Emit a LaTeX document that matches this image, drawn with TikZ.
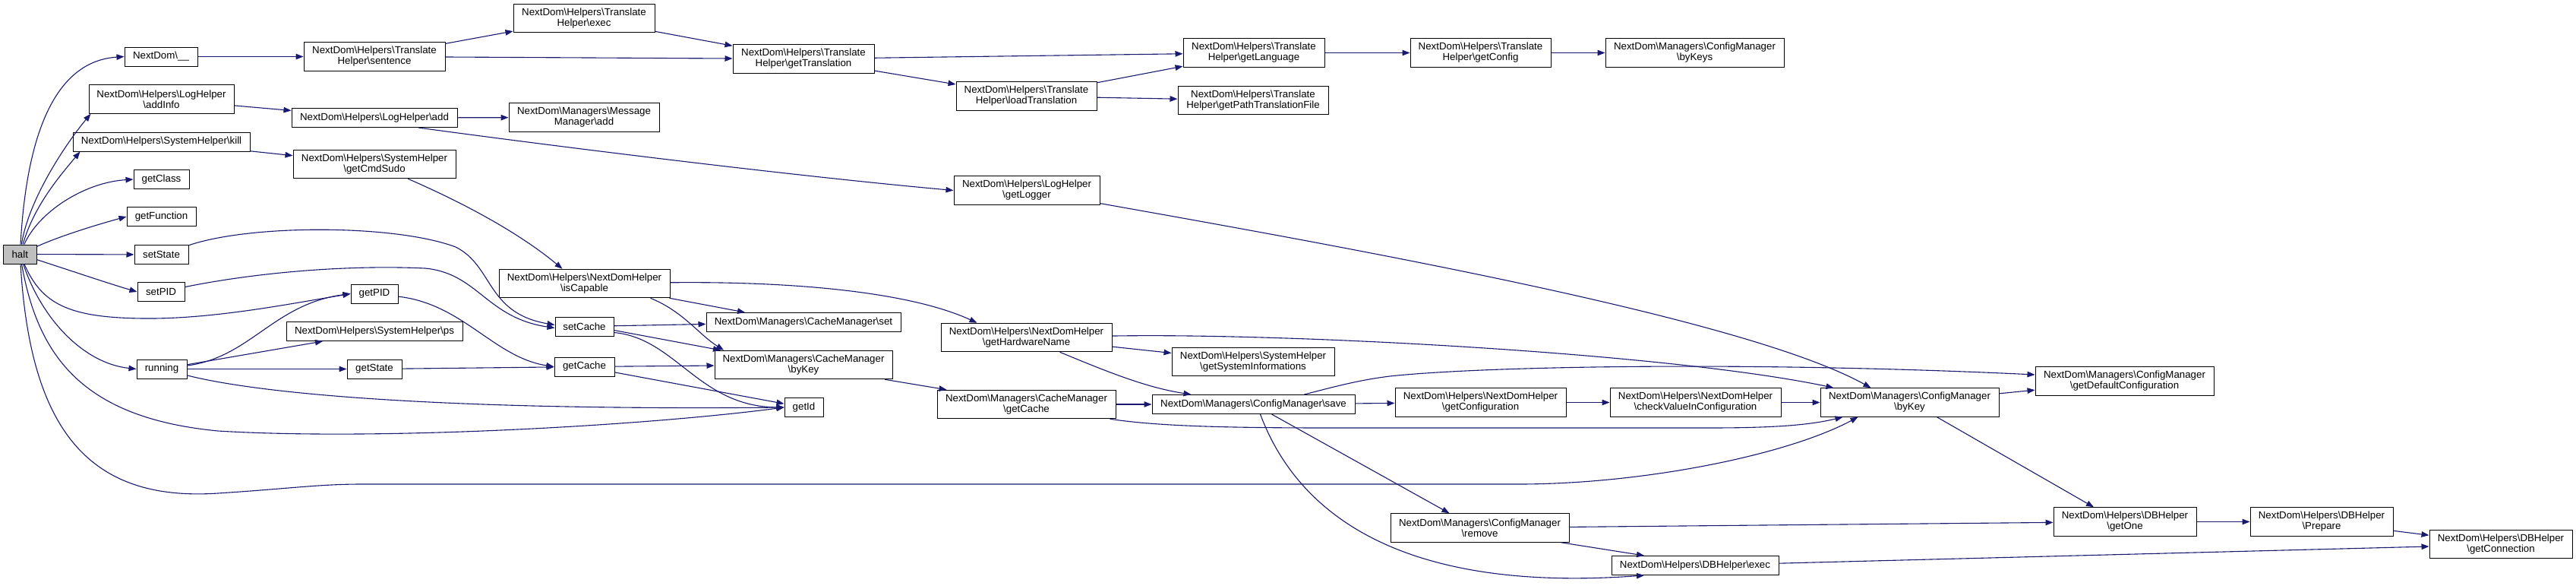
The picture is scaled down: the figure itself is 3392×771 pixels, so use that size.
\documentclass[tikz,border=0pt]{standalone}
\usepackage{fontspec}
\setmainfont{Liberation Sans}
\usetikzlibrary{arrows.meta}
\newcommand{\BS}{\textbackslash}
\definecolor{edgeblue}{RGB}{25,25,112}
\definecolor{haltgray}{RGB}{191,191,191}
\begin{document}
\begin{tikzpicture}[x=1pt,y=-1pt,
  fn/.style={draw=black, line width=1pt, fill=white, inner xsep=2pt, inner ysep=1pt, minimum height=25pt, align=center, font=\fontsize{13.3}{14}\selectfont},
  fnn/.style={fn, minimum height=37.5pt},
  call/.style={draw=edgeblue, line width=1.1pt, -{Triangle[length=10pt,width=7.5pt]}}]
\useasboundingbox[fill=white] (0,0) rectangle (3392,771);

% column 0
\node[fn, fill=haltgray, minimum width=43.4pt] (halt) at (26.3,334.5) {halt};
% column 1
\node[fn, minimum width=96pt] (nd) at (212,74.5) {NextDom\BS\_\_};
\node[fnn, minimum width=191pt] (addInfo) at (212.5,130.5) {NextDom\BS Helpers\BS LogHelper\\\BS addInfo};
\node[fn, minimum width=233pt] (kill) at (212.5,186.5) {NextDom\BS Helpers\BS SystemHelper\BS kill};
\node[fn, minimum width=73pt] (getClass) at (212.5,236) {getClass};
\node[fn, minimum width=91pt] (getFunction) at (212.5,285) {getFunction};
\node[fn, minimum width=71pt] (setState) at (212.5,335) {setState};
\node[fn, minimum width=62pt] (setPID) at (212,384) {setPID};
\node[fn, minimum width=66pt] (running) at (213,485.5) {running};
% column 2
\node[fnn, minimum width=186pt] (sentence) at (493,74.5) {NextDom\BS Helpers\BS Translate\\Helper\BS sentence};
\node[fn, minimum width=218pt] (logadd) at (493,155) {NextDom\BS Helpers\BS LogHelper\BS add};
\node[fnn, minimum width=214pt] (getCmdSudo) at (493,216) {NextDom\BS Helpers\BS SystemHelper\\\BS getCmdSudo};
\node[fn, minimum width=62pt] (getPID) at (493,386.5) {getPID};
\node[fn, minimum width=232pt] (ps) at (493,436) {NextDom\BS Helpers\BS SystemHelper\BS ps};
\node[fn, minimum width=72pt] (getState) at (493,485.5) {getState};
% column 3
\node[fnn, minimum width=186pt] (exec) at (769,24) {NextDom\BS Helpers\BS Translate\\Helper\BS exec};
\node[fnn, minimum width=198pt] (msgadd) at (769,154.5) {NextDom\BS Managers\BS Message\\Manager\BS add};
\node[fnn, minimum width=225pt] (isCapable) at (769.5,373) {NextDom\BS Helpers\BS NextDomHelper\\\BS isCapable};
\node[fn, minimum width=77pt] (setCache) at (769.5,429.5) {setCache};
\node[fn, minimum width=79pt] (getCache) at (769.5,482.5) {getCache};
% column 4
\node[fnn, minimum width=186pt] (getTranslation) at (1058,77.5) {NextDom\BS Helpers\BS Translate\\Helper\BS getTranslation};
\node[fn, minimum width=256pt] (cmset) at (1058,424) {NextDom\BS Managers\BS CacheManager\BS set};
\node[fnn, minimum width=234pt] (cmbyKey) at (1058,480) {NextDom\BS Managers\BS CacheManager\\\BS byKey};
\node[fn, minimum width=51pt] (getId) at (1058.5,536) {getId};
% column 5
\node[fnn, minimum width=185pt] (loadTranslation) at (1351.5,126.5) {NextDom\BS Helpers\BS Translate\\Helper\BS loadTranslation};
\node[fnn, minimum width=192pt] (getLogger) at (1352,250.5) {NextDom\BS Helpers\BS LogHelper\\\BS getLogger};
\node[fnn, minimum width=225pt] (getHardwareName) at (1351.5,444) {NextDom\BS Helpers\BS NextDomHelper\\\BS getHardwareName};
\node[fnn, minimum width=235pt] (cmgetCache) at (1351.5,532) {NextDom\BS Managers\BS CacheManager\\\BS getCache};
% column 6
\node[fnn, minimum width=186pt] (getLanguage) at (1651,69.5) {NextDom\BS Helpers\BS Translate\\Helper\BS getLanguage};
\node[fnn, minimum width=198pt] (getPathTF) at (1650,132) {NextDom\BS Helpers\BS Translate\\Helper\BS getPathTranslationFile};
\node[fnn, minimum width=214pt] (getSysInfo) at (1650,476) {NextDom\BS Helpers\BS SystemHelper\\\BS getSystemInformations};
\node[fn, minimum width=267pt] (save) at (1650.5,532) {NextDom\BS Managers\BS ConfigManager\BS save};
% column 7
\node[fnn, minimum width=185pt] (getConfig) at (1949.5,69.5) {NextDom\BS Helpers\BS Translate\\Helper\BS getConfig};
\node[fnn, minimum width=225pt] (getConfiguration) at (1949.5,529.5) {NextDom\BS Helpers\BS NextDomHelper\\\BS getConfiguration};
\node[fnn, minimum width=235pt] (remove) at (1948.5,694.5) {NextDom\BS Managers\BS ConfigManager\\\BS remove};
% column 8
\node[fnn, minimum width=235pt] (byKeys) at (2231.5,69.5) {NextDom\BS Managers\BS ConfigManager\\\BS byKeys};
\node[fnn, minimum width=225pt] (checkValue) at (2232.5,529.5) {NextDom\BS Helpers\BS NextDomHelper\\\BS checkValueInConfiguration};
\node[fn, minimum width=220pt] (dbexec) at (2232,744) {NextDom\BS Helpers\BS DBHelper\BS exec};
% column 9
\node[fnn, minimum width=235pt] (cfgbyKey) at (2514.5,529.5) {NextDom\BS Managers\BS ConfigManager\\\BS byKey};
% column 10
\node[fnn, minimum width=235pt] (getDefConf) at (2797.5,501.5) {NextDom\BS Managers\BS ConfigManager\\\BS getDefaultConfiguration};
\node[fnn, minimum width=188pt] (getOne) at (2798,686.5) {NextDom\BS Helpers\BS DBHelper\\\BS getOne};
% column 11
\node[fnn, minimum width=188pt] (Prepare) at (3057,686.5) {NextDom\BS Helpers\BS DBHelper\\\BS Prepare};
% column 12
\node[fnn, minimum width=188pt] (getConnection) at (3293,716) {NextDom\BS Helpers\BS DBHelper\\\BS getConnection};

% ---- edges from halt
\draw[call] (halt) .. controls (36,160) and (80,80) .. (nd.west);
\draw[call] (halt) .. controls (38,260) and (90,185) .. ([xshift=3pt]addInfo.south west);
\draw[call] (halt) .. controls (45,270) and (80,230) .. ([xshift=10pt]kill.south west);
\draw[call] (halt) .. controls (50,280) and (110,240) .. (getClass.west);
\draw[call] (halt) .. controls (80,310) and (130,295) .. (getFunction.west);
\draw[call] (halt) -- (setState);
\draw[call] (halt) .. controls (90,355) and (140,372) .. (setPID.west);
\draw[call] (halt) .. controls (55,400) and (90,418) .. (189,419) .. controls (280,420) and (380,400) .. (getPID.west);
\draw[call] (halt) .. controls (55,420) and (110,478) .. (running.west);
\draw[call] (halt) .. controls (50,470) and (110,550) .. (287,567) .. controls (500,580) and (850,560) .. (getId.west);
\draw[call] (halt) .. controls (40,570) and (120,660) .. (287,649) .. controls (380,643) and (420,637) .. (476,637) -- (2000,637) .. controls (2160,637) and (2350,600) .. ([xshift=-68pt]cfgbyKey.south);

% ---- translation chain
\draw[call] (nd) -- (sentence);
\draw[call] (sentence) -- (exec);
\draw[call] (sentence) -- (getTranslation);
\draw[call] (exec) -- (getTranslation);
\draw[call] (getTranslation) -- (getLanguage);
\draw[call] (getTranslation) -- (loadTranslation);
\draw[call] (loadTranslation) -- (getLanguage);
\draw[call] (loadTranslation) -- (getPathTF);
\draw[call] (getLanguage) -- (getConfig);
\draw[call] (getConfig) -- (byKeys);

% ---- log chain
\draw[call] (addInfo) -- (logadd);
\draw[call] (logadd) -- (msgadd);
\draw[call] ([xshift=58pt]logadd.south) .. controls (750,195) and (1050,232) .. (getLogger.west);
\draw[call] (getLogger) .. controls (1800,330) and (2300,420) .. ([xshift=-51pt]cfgbyKey.north);

% ---- system chain
\draw[call] (kill) -- (getCmdSudo);
\draw[call] (getCmdSudo) .. controls (640,280) and (700,320) .. ([xshift=-29pt]isCapable.north);
\draw[call] (isCapable) .. controls (1050,370) and (1200,385) .. ([xshift=-65pt]getHardwareName.north);
\draw[call] ([xshift=112pt]isCapable.south) -- ([xshift=-77pt]cmset.north);
\draw[call] ([xshift=87pt]isCapable.south) .. controls (900,410) and (920,440) .. ([xshift=-105pt]cmbyKey.north);

% ---- cache
\draw[call] (setState) .. controls (330,295) and (520,295) .. (600,325) .. controls (650,350) and (640,412) .. ([yshift=2pt]setCache.west);
\draw[call] (setPID) .. controls (330,360) and (450,348) .. (560,353) .. controls (630,360) and (640,418) .. ([yshift=-2pt]setCache.west);
\draw[call] (setCache) -- (cmset);
\draw[call] ([yshift=-5pt]setCache.east) -- ([xshift=-109pt]cmbyKey.north);
\draw[call] ([yshift=-8pt]setCache.east) .. controls (890,445) and (920,535) .. (getId.west);
\draw[call] (getCache) -- (cmbyKey);
\draw[call] (getCache) -- (getId);
\draw[call] (getPID) .. controls (610,400) and (650,470) .. (getCache.west);
\draw[call] (getState) -- (getCache);
\draw[call] (running) .. controls (330,470) and (360,400) .. (getPID.west);
\draw[call] (running) -- ([xshift=-68pt]ps.south);
\draw[call] (running) -- (getState);
\draw[call] (running) .. controls (350,520) and (600,540) .. (getId.west);
\draw[call] ([xshift=107pt]cmbyKey.south) -- ([xshift=-105pt]cmgetCache.north);

% ---- hardware / config
\draw[call] (getHardwareName) -- (getSysInfo);
\draw[call] ([xshift=44pt]getHardwareName.south) .. controls (1460,490) and (1510,510) .. ([xshift=-82pt]save.north);
\draw[call] (getHardwareName) .. controls (1700,438) and (2200,465) .. ([xshift=-100pt]cfgbyKey.north);
\draw[call] (cmgetCache) -- (save);
\draw[call] ([xshift=110pt]cmgetCache.south) .. controls (1520,560) and (1600,563) .. (1750,563) -- (2250,563) .. controls (2330,563) and (2380,560) .. ([xshift=-88pt]cfgbyKey.south);
\draw[call] (save) -- (getConfiguration);
\draw[call] ([xshift=67pt]save.north) .. controls (1760,508) and (1790,500) .. (1830,495) .. controls (1950,482) and (2300,475) .. ([yshift=8.5pt]getDefConf.west);
\draw[call] ([xshift=24pt]save.south) -- ([xshift=-40pt]remove.north);
\draw[call] ([xshift=9pt]save.south) .. controls (1710,680) and (1850,780) .. ([xshift=-67pt]dbexec.south);
\draw[call] (getConfiguration) -- (checkValue);
\draw[call] (checkValue) -- (cfgbyKey);
\draw[call] (cfgbyKey) -- (getDefConf);
\draw[call] ([xshift=36pt]cfgbyKey.south) -- ([xshift=-41pt]getOne.north);
\draw[call] (remove) -- (getOne);
\draw[call] ([xshift=107pt]remove.south) -- ([xshift=-67pt]dbexec.north);
\draw[call] (dbexec) -- ([yshift=-3pt]getConnection.west);
\draw[call] (getOne) -- (Prepare);
\draw[call] (Prepare) -- (getConnection);
\end{tikzpicture}
\end{document}
